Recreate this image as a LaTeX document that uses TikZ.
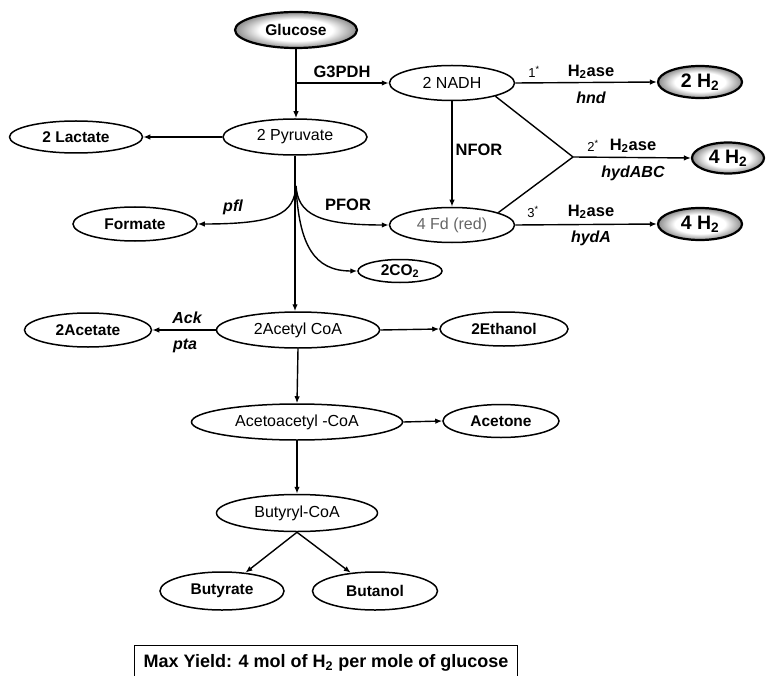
\documentclass[tikz,border=0pt]{standalone}
\usepackage{fontspec}
\setmainfont{Liberation Sans}
\usetikzlibrary{arrows.meta,shapes.geometric}
\pgfdeclareradialshading{ringshade}{\pgfpoint{0bp}{0bp}}{color(0bp)=(white); color(15bp)=(white); color(25bp)=(black!45); color(50bp)=(black!45)}
\begin{document}
\begin{tikzpicture}[x=1pt,y=-1pt,
  ell/.style={ellipse,draw,line width=1.5pt,inner sep=0pt,font=\fontsize{16}{18}\selectfont},
  bell/.style={ell,font=\fontsize{15.5}{18}\selectfont\bfseries},
  hell/.style={ellipse,draw,line width=2.2pt,inner sep=0pt,shading=ringshade,font=\fontsize{15.5}{18}\selectfont\bfseries},
  arr/.style={line width=1.4pt,-{Latex[length=7pt,width=5.5pt]}},
  ln/.style={line width=1.4pt},
  lab/.style={font=\fontsize{16.5}{18}\selectfont\bfseries,inner sep=0pt},
  ilab/.style={font=\fontsize{16}{18}\selectfont\bfseries\itshape,inner sep=0pt},
  nlab/.style={font=\fontsize{13}{15}\selectfont,inner sep=0pt}
]
\useasboundingbox (0,0) rectangle (770,676);
% nodes
\node[hell,minimum width=122pt,minimum height=36pt] (glu) at (296,30) {Glucose};
\node[ell,minimum width=144pt,minimum height=36pt] (pyr) at (295,137) {2 Pyruvate};
\node[bell,minimum width=133pt,minimum height=32pt] (lac) at (76,137) {2 Lactate};
\node[ell,minimum width=125pt,minimum height=35pt] (nadh) at (452,83) {2 NADH};
\node[hell,minimum width=84pt,minimum height=32pt,font=\fontsize{19.5}{21}\selectfont\bfseries] (h2a) at (700,82) {2 H\textsubscript{2}};
\node[hell,minimum width=72pt,minimum height=31pt,font=\fontsize{19.5}{21}\selectfont\bfseries] (h2b) at (728,158) {4 H\textsubscript{2}};
\node[ell,minimum width=125pt,minimum height=35pt,text=black!60] (fd) at (452,225) {4 Fd (red)};
\node[hell,minimum width=84pt,minimum height=32pt,font=\fontsize{19.5}{21}\selectfont\bfseries] (h2c) at (700,224) {4 H\textsubscript{2}};
\node[bell,minimum width=124pt,minimum height=34pt] (form) at (135,224) {Formate};
\node[bell,minimum width=84pt,minimum height=23pt] (co2) at (400,271) {2CO\textsubscript{2}};
\node[bell,minimum width=127pt,minimum height=34pt] (ace) at (88,330) {2Acetate};
\node[ell,minimum width=163pt,minimum height=36pt] (acoa) at (298,330) {2Acetyl CoA};
\node[bell,minimum width=128pt,minimum height=34pt] (eth) at (504,329) {2Ethanol};
\node[ell,minimum width=211pt,minimum height=36pt] (aca) at (297,422) {Acetoacetyl -CoA};
\node[bell,minimum width=116pt,minimum height=33pt] (acet) at (501,421) {Acetone};
\node[ell,minimum width=161pt,minimum height=37pt] (but) at (297,513) {Butyryl-CoA};
\node[bell,minimum width=124pt,minimum height=38pt] (bya) at (222,591) {Butyrate};
\node[bell,minimum width=125pt,minimum height=38pt] (byo) at (375,591) {Butanol};
\node[draw,line width=1pt,minimum width=383pt,minimum height=50pt,anchor=north west,inner sep=0pt] (box) at (134,645) {};
\node[font=\fontsize{18}{20}\selectfont\bfseries] (boxt) at (326,663) {Max Yield: 4 mol of H\textsubscript{2} per mole of glucose};
% coordinates
\coordinate (g) at (295,83);
\coordinate (J) at (573,157);
\coordinate (B) at (296,186);
% connectors
\draw[arr] (glu.south) -- (glu.south |- pyr.north);
\draw[arr] (g) -- (g -| nadh.west);
\draw[arr] (pyr.west) -- (lac.east);
\draw[arr] (nadh.east) -- (h2a.west);
\draw[arr] (nadh.south) -- (fd.north);
\draw[ln] (nadh.-17) -- (J);
\draw[ln] (fd.15) -- (J);
\draw[arr] (J) -- (h2b.west);
\draw[arr] (fd.east) -- (h2c.west);
\draw[arr] (pyr.south) -- (pyr.south |- acoa.north);
\draw[arr] (B) .. controls (294,214) and (276,224) .. (form.east);
\draw[arr] (B) .. controls (298,214) and (318,225) .. (fd.west);
\draw[arr] (B) .. controls (299,245) and (314,271) .. (co2.west);
\draw[arr] (acoa.west) -- (ace.east);
\draw[arr] (acoa.east) -- (eth.west);
\draw[arr] (acoa.south) -- (aca.north);
\draw[arr] (aca.east) -- (acet.west);
\draw[arr] (aca.south) -- (but.north);
\draw[arr] (but.south) -- (bya);
\draw[arr] (but.south) -- (byo);
% labels
\node[lab] (lg) at (342,72) {G3PDH};
\node[lab] (lnf) at (479,150) {NFOR};
\node[lab] (lpf) at (348,205) {PFOR};
\node[ilab] (lpfl) at (233,207) {pfl};
\node[nlab] (n1) at (534,72) {1\textsuperscript{*}};
\node[lab] (e1) at (591,72) {H\textsubscript{2}ase};
\node[ilab] (g1) at (591,98) {hnd};
\node[nlab] (n2) at (593,146) {2\textsuperscript{*}};
\node[lab] (e2) at (633,146) {H\textsubscript{2}ase};
\node[ilab] (g2) at (633,173) {hydABC};
\node[nlab] (n3) at (533,212) {3\textsuperscript{*}};
\node[lab] (e3) at (591,212) {H\textsubscript{2}ase};
\node[ilab] (g3) at (591,238) {hydA};
\node[ilab] (lack) at (187,318) {Ack};
\node[ilab] (lpta) at (185,346) {pta};
\end{tikzpicture}
\end{document}
